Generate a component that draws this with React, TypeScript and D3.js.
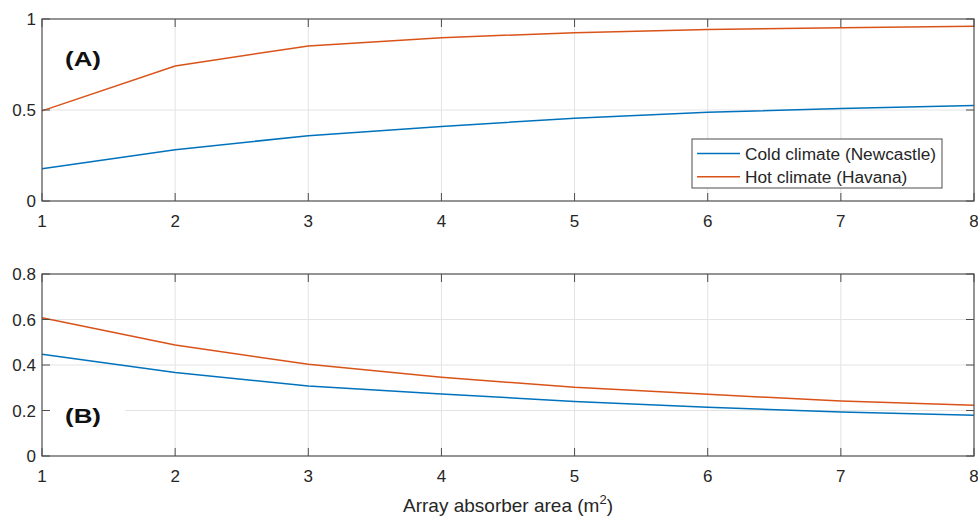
import React from "react";
import * as d3 from "d3";

const areas = [1, 2, 3, 4, 5, 6, 7, 8];
const coldA = [0.177, 0.282, 0.359, 0.41, 0.455, 0.488, 0.508, 0.525];
const hotA = [0.495, 0.742, 0.852, 0.897, 0.925, 0.942, 0.952, 0.96];
const coldB = [0.447, 0.367, 0.308, 0.272, 0.24, 0.214, 0.193, 0.179];
const hotB = [0.608, 0.488, 0.403, 0.346, 0.302, 0.271, 0.242, 0.223];
const xTicks = [1, 2, 3, 4, 5, 6, 7, 8];
const yTicksA = [0, 0.5, 1];
const yTicksB = [0, 0.2, 0.4, 0.6, 0.8];
const seriesNames = ["Cold climate (Newcastle)", "Hot climate (Havana)"];

const W = 978;
const H = 519;
const BLUE = "#0072BD";
const ORANGE = "#D95319";
const AXIS = "#4d4d4d";
const GRID = "#e3e3e3";
const TEXT = "#262626";
const FONT = "'Liberation Sans', Arial, sans-serif";

const left = 42;
const right = 974;
const tickLen = 8;

type PanelProps = {
  top: number;
  bottom: number;
  yMax: number;
  yTicks: number[];
  cold: number[];
  hot: number[];
  label: string;
  labelY: number;
  labelBg?: [number, number];
  legend?: boolean;
};

function Panel({ top, bottom, yMax, yTicks, cold, hot, label, labelY, labelBg, legend }: PanelProps) {
  const x = d3.scaleLinear().domain([1, 8]).range([left, right]);
  const y = d3.scaleLinear().domain([0, yMax]).range([bottom, top]);
  const line = d3
    .line<number>()
    .x((_, i) => x(areas[i]))
    .y((d) => y(d));
  return (
    <g>
      <rect x={left} y={top} width={right - left} height={bottom - top} fill="#fff" />
      {/* grid */}
      {xTicks.slice(1, -1).map((t) => (
        <line key={"gx" + t} x1={x(t)} x2={x(t)} y1={top} y2={bottom} stroke={GRID} strokeWidth={1} />
      ))}
      {yTicks.slice(1, -1).map((t) => (
        <line key={"gy" + t} x1={left} x2={right} y1={y(t)} y2={y(t)} stroke={GRID} strokeWidth={1} />
      ))}
      {labelBg && (
        <rect x={labelBg[0]} y={labelY - 20} width={labelBg[1] - labelBg[0]} height={28} fill="#fff" />
      )}
      {/* series */}
      <path d={line(cold) || ""} fill="none" stroke={BLUE} strokeWidth={1.5} />
      <path d={line(hot) || ""} fill="none" stroke={ORANGE} strokeWidth={1.5} />
      {/* box with inward ticks on all sides */}
      <rect x={left} y={top} width={right - left} height={bottom - top} fill="none" stroke={AXIS} strokeWidth={1.2} />
      {xTicks.map((t) => (
        <g key={"tx" + t}>
          <line x1={x(t)} x2={x(t)} y1={bottom} y2={bottom - tickLen} stroke={AXIS} />
          <line x1={x(t)} x2={x(t)} y1={top} y2={top + tickLen} stroke={AXIS} />
          <text x={x(t)} y={bottom + 26} textAnchor="middle" fontSize={17} fill={TEXT} fontFamily={FONT}>
            {t}
          </text>
        </g>
      ))}
      {yTicks.map((t) => (
        <g key={"ty" + t}>
          <line x1={left} x2={left + tickLen} y1={y(t)} y2={y(t)} stroke={AXIS} />
          <line x1={right} x2={right - tickLen} y1={y(t)} y2={y(t)} stroke={AXIS} />
          <text x={36} y={y(t) + 6} textAnchor="end" fontSize={17} fill={TEXT} fontFamily={FONT}>
            {String(t)}
          </text>
        </g>
      ))}
      <text
        x={65}
        y={labelY}
        fontSize={21}
        fontWeight="bold"
        fill="#111"
        fontFamily={FONT}
        textLength={36}
        lengthAdjust="spacingAndGlyphs"
      >
        {label}
      </text>
      {legend && (
        <g>
          <rect x={692} y={139} width={250} height={49} fill="#fff" stroke={AXIS} strokeWidth={1} />
          {seriesNames.map((name, i) => (
            <g key={name}>
              <line
                x1={697}
                x2={740}
                y1={153.5 + i * 23.2}
                y2={153.5 + i * 23.2}
                stroke={i === 0 ? BLUE : ORANGE}
                strokeWidth={1.5}
              />
              <text x={745} y={159.5 + i * 23.2} fontSize={17.3} fill={TEXT} fontFamily={FONT}>
                {name}
              </text>
            </g>
          ))}
        </g>
      )}
    </g>
  );
}

export default function App() {
  return (
    <svg width={W} height={H} style={{ display: "block", position: "absolute", left: 0, top: 0, background: "#fff" }}>
      <rect width={W} height={H} fill="#fff" />
      <Panel top={19} bottom={201} yMax={1} yTicks={yTicksA} cold={coldA} hot={hotA} label="(A)" labelY={66} legend />
      <Panel
        top={274}
        bottom={456}
        yMax={0.8}
        yTicks={yTicksB}
        cold={coldB}
        hot={hotB}
        label="(B)"
        labelY={423}
        labelBg={[50, 125]}
      />
      <text x={508} y={512} textAnchor="middle" fontSize={19} fill={TEXT} fontFamily={FONT}>
        Array absorber area (m
        <tspan dy={-8} fontSize={13}>2</tspan>
        <tspan dy={8}>)</tspan>
      </text>
    </svg>
  );
}
